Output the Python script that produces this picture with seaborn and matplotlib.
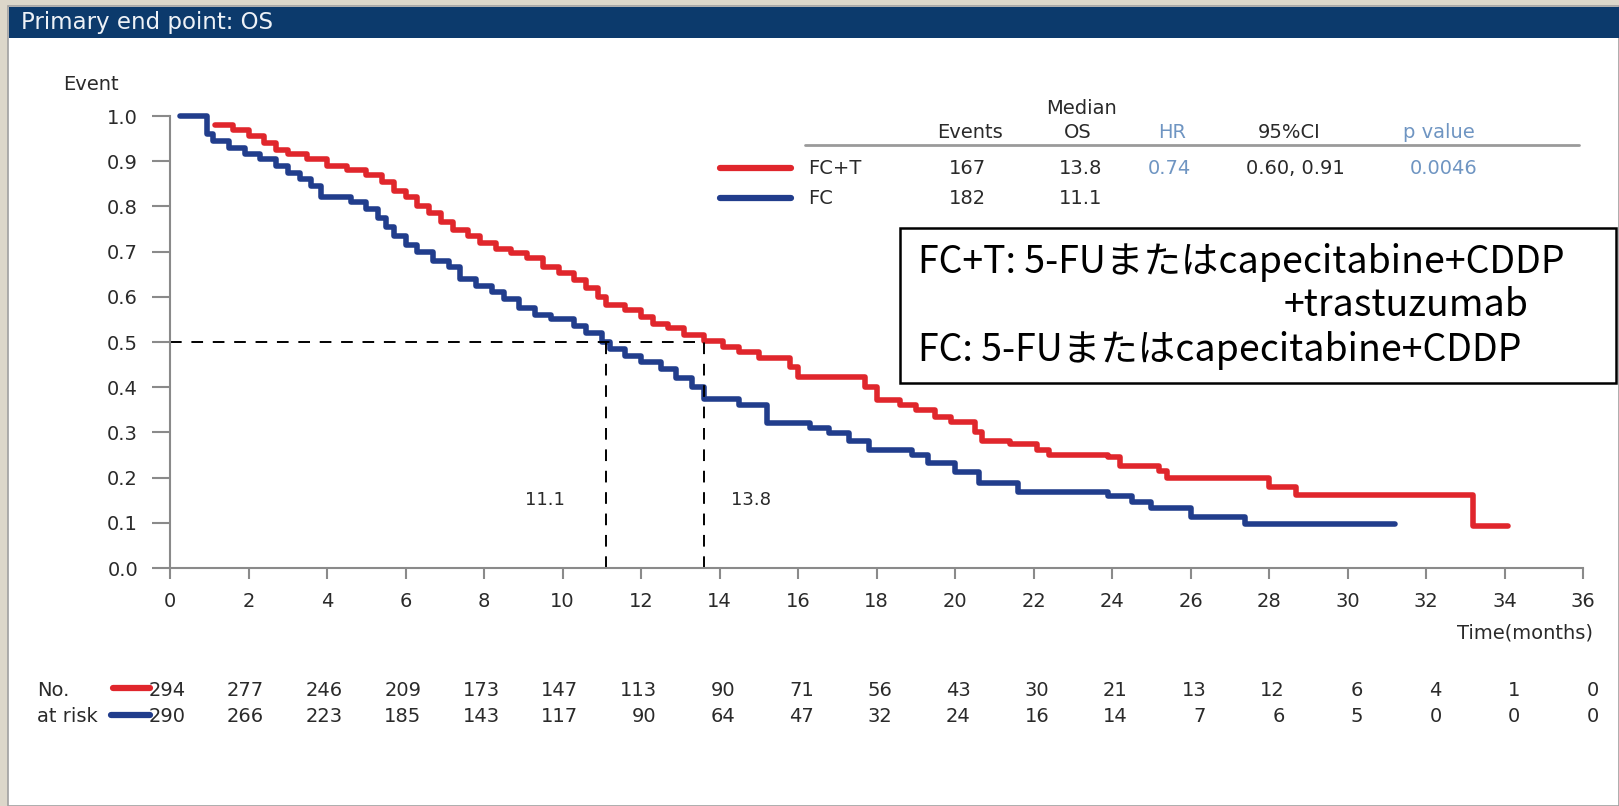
import numpy as np
import pandas as pd
import seaborn as sns
import matplotlib.pyplot as plt
from matplotlib.patches import Rectangle
from matplotlib.lines import Line2D

W, H = 1619, 806

# Kaplan-Meier steps (months, survival after the step)
fct_time = [1.15, 1.6, 2.0, 2.4, 2.7, 3.0, 3.5, 4.0, 4.5,
            5.0, 5.4, 5.7, 6.0, 6.3, 6.6, 6.9, 7.2, 7.6, 7.9,
            8.3, 8.7, 9.1, 9.5, 9.9, 10.3, 10.6, 10.9, 11.1, 11.6,
            12.0, 12.3, 12.7, 13.1, 13.6, 14.1, 14.5, 15.0, 15.8, 16.0,
            17.7, 18.0, 18.6, 19.0, 19.5, 19.9, 20.5, 20.7, 21.4, 22.1,
            22.4, 23.9, 24.2, 25.2, 25.4, 28.0, 28.7, 33.2, 34.1]
fct_surv = [0.98, 0.97, 0.955, 0.94, 0.925, 0.915, 0.905, 0.89, 0.88,
            0.87, 0.855, 0.835, 0.82, 0.80, 0.785, 0.765, 0.748, 0.735, 0.72,
            0.705, 0.697, 0.685, 0.667, 0.652, 0.637, 0.62, 0.60, 0.582, 0.57,
            0.555, 0.54, 0.53, 0.515, 0.502, 0.49, 0.478, 0.465, 0.445, 0.423,
            0.40, 0.372, 0.36, 0.35, 0.335, 0.323, 0.30, 0.28, 0.275, 0.262,
            0.25, 0.245, 0.226, 0.215, 0.20, 0.18, 0.162, 0.093, 0.093]

fc_time = [0.25, 0.95, 1.1, 1.5, 1.9, 2.3, 2.7, 3.0, 3.3, 3.6,
           3.85, 4.6, 5.0, 5.3, 5.5, 5.7, 6.0, 6.3, 6.7, 7.1,
           7.4, 7.8, 8.2, 8.5, 8.9, 9.3, 9.7, 10.3, 10.6, 11.0,
           11.2, 11.6, 12.0, 12.5, 12.9, 13.3, 13.6, 14.5, 15.2, 16.3,
           16.8, 17.3, 17.8, 18.9, 19.3, 20.0, 20.6, 21.6, 23.9, 24.5,
           25.0, 26.0, 27.4, 31.2]
fc_surv = [1.0, 0.96, 0.945, 0.93, 0.915, 0.905, 0.89, 0.875, 0.86, 0.845,
           0.82, 0.81, 0.795, 0.775, 0.755, 0.735, 0.715, 0.70, 0.68, 0.665,
           0.64, 0.625, 0.61, 0.595, 0.575, 0.56, 0.55, 0.535, 0.52, 0.50,
           0.485, 0.47, 0.455, 0.44, 0.42, 0.40, 0.375, 0.36, 0.32, 0.31,
           0.298, 0.28, 0.26, 0.25, 0.232, 0.212, 0.188, 0.168, 0.16, 0.146,
           0.132, 0.113, 0.097, 0.097]

# number at risk
risk_months = list(range(0, 37, 2))
risk_fct = [294, 277, 246, 209, 173, 147, 113, 90, 71, 56, 43, 30, 21, 13, 12, 6, 4, 1, 0]
risk_fc = [290, 266, 223, 185, 143, 117, 90, 64, 47, 32, 24, 16, 14, 7, 6, 5, 0, 0, 0]

# summary table
arms = ['FC+T', 'FC']
events = ['167', '182']
median_os = ['13.8', '11.1']
hr = '0.74'
ci95 = '0.60, 0.91'
p_value = '0.0046'
median_lines = [11.1, 13.6]

red = '#e0262c'
blue = '#213d8c'
steel = '#6f95c2'
txt = '#2a2a2a'


def fx(x):
    return x / W


def fy(y):
    return 1 - y / H


sns.set_theme(style='white')
plt.rcParams['font.family'] = ['DejaVu Sans']

fig = plt.figure(figsize=(W / 100, H / 100), dpi=100)
fig.patch.set_facecolor('#dcd7ca')

# slide panel + header bar
fig.add_artist(Rectangle((fx(8), 0), 1 - fx(8), fy(6), transform=fig.transFigure,
                         facecolor='white', edgecolor='#a0a0a0', lw=1.2, zorder=0))
fig.add_artist(Rectangle((fx(9), fy(38)), 1 - fx(9), fy(7) - fy(38), transform=fig.transFigure,
                         facecolor='#0c3a6c', edgecolor='none', zorder=1))
fig.text(fx(21), fy(22), 'Primary end point: OS', color='#eef2f7', fontsize=16.5,
         ha='left', va='center')

ax = fig.add_axes([fx(170), fy(568), fx(1583) - fx(170), fy(116) - fy(568)])
ax.patch.set_alpha(0)

df = pd.concat([
    pd.DataFrame({'time': fct_time, 'surv': fct_surv, 'arm': 'FC+T'}),
    pd.DataFrame({'time': fc_time, 'surv': fc_surv, 'arm': 'FC'}),
], ignore_index=True)

sns.lineplot(data=df, x='time', y='surv', hue='arm', hue_order=['FC+T', 'FC'],
             palette={'FC+T': red, 'FC': blue}, estimator=None, sort=False,
             drawstyle='steps-post', linewidth=4, legend=False, ax=ax)
for ln in ax.lines:
    ln.set_clip_on(False)

# median guide lines
ax.plot([0, median_lines[1]], [0.5, 0.5], color='black', lw=1.4, dashes=(6, 5))
for m in median_lines:
    ax.plot([m, m], [0, 0.5], color='black', lw=1.4, dashes=(6, 5))
ax.text(9.55, 0.15, median_os[1], ha='center', va='center', fontsize=13, color=txt)
ax.text(14.8, 0.15, median_os[0], ha='center', va='center', fontsize=13, color=txt)

ax.set_xlim(0, 36)
ax.set_ylim(0, 1)
ax.set_xticks(range(0, 37, 2))
ax.set_yticks(np.arange(0, 1.01, 0.1))
ax.set_yticklabels([f'{v:.1f}' for v in np.arange(0, 1.01, 0.1)])
ax.set_xlabel('')
ax.set_ylabel('')
for s in ['top', 'right']:
    ax.spines[s].set_visible(False)
for s in ['left', 'bottom']:
    ax.spines[s].set_color('#8a8a8a')
    ax.spines[s].set_linewidth(1.5)
ax.tick_params(axis='y', direction='out', length=13, width=1.5, color='#8a8a8a',
               pad=10, labelsize=14, labelcolor=txt, left=True)
ax.tick_params(axis='x', direction='out', length=8, width=1.5, color='#8a8a8a',
               pad=9, labelsize=14, labelcolor=txt, bottom=True)

fig.text(fx(63), fy(85), 'Event', fontsize=14, color=txt, ha='left', va='center')
fig.text(fx(1593), fy(633), 'Time(months)', fontsize=14, color=txt, ha='right', va='center')

# summary table in the upper right
hdr = dict(fontsize=14, va='center', ha='center')
fig.text(fx(1081), fy(108), 'Median', color=txt, **hdr)
fig.text(fx(970), fy(132), 'Events', color=txt, **hdr)
fig.text(fx(1078), fy(132), 'OS', color=txt, **hdr)
fig.text(fx(1172), fy(132), 'HR', color=steel, **hdr)
fig.text(fx(1289), fy(132), '95%CI', color=txt, **hdr)
fig.text(fx(1439), fy(132), 'p value', color=steel, **hdr)
fig.add_artist(Line2D([fx(805), fx(1579)], [fy(145), fy(145)], color='#9a9a9a', lw=2))
for i, (arm, col, yy) in enumerate(zip(arms, [red, blue], [168, 198])):
    fig.add_artist(Line2D([fx(720), fx(791)], [fy(yy), fy(yy)], color=col, lw=4.5))
    fig.text(fx(808), fy(yy), arm, color=txt, fontsize=14, ha='left', va='center')
    fig.text(fx(967), fy(yy), events[i], color=txt, **hdr)
    fig.text(fx(1081), fy(yy), median_os[i], color=txt, **hdr)
fig.text(fx(1169), fy(168), hr, color=steel, **hdr)
fig.text(fx(1295), fy(168), ci95, color=txt, **hdr)
fig.text(fx(1444), fy(168), p_value, color=steel, **hdr)

# regimen box
fig.add_artist(Rectangle((fx(900), fy(383)), fx(1616) - fx(900), fy(228) - fy(383),
                         transform=fig.transFigure, facecolor='white', edgecolor='black',
                         lw=1.8, zorder=3))
jp = ['Noto Sans CJK JP', 'DejaVu Sans']
fig.text(fx(918), fy(263), 'FC+T: 5-FUまたはcapecitabine+CDDP', family=jp, fontsize=27,
         color='black', ha='left', va='center', zorder=4)
fig.text(fx(1528), fy(305), '+trastuzumab', family=jp, fontsize=27,
         color='black', ha='right', va='center', zorder=4)
fig.text(fx(918), fy(350), 'FC: 5-FUまたはcapecitabine+CDDP', family=jp, fontsize=27,
         color='black', ha='left', va='center', zorder=4)

# number at risk
fig.text(fx(37), fy(690), 'No.', fontsize=14, color=txt, ha='left', va='center')
fig.text(fx(37), fy(716), 'at risk', fontsize=14, color=txt, ha='left', va='center')
fig.add_artist(Line2D([fx(113), fx(150)], [fy(688), fy(688)], color=red, lw=4.5))
fig.add_artist(Line2D([fx(111), fx(150)], [fy(715), fy(715)], color=blue, lw=4.5))
tr = ax.get_xaxis_transform()
for m, a, b in zip(risk_months, risk_fct, risk_fc):
    ax.text(m + 0.4, (568 - 690) / 452, str(a), transform=tr, ha='right', va='center',
            fontsize=14, color=txt, clip_on=False)
    ax.text(m + 0.4, (568 - 716) / 452, str(b), transform=tr, ha='right', va='center',
            fontsize=14, color=txt, clip_on=False)

fig.savefig('out.png', dpi=100, facecolor=fig.get_facecolor())
